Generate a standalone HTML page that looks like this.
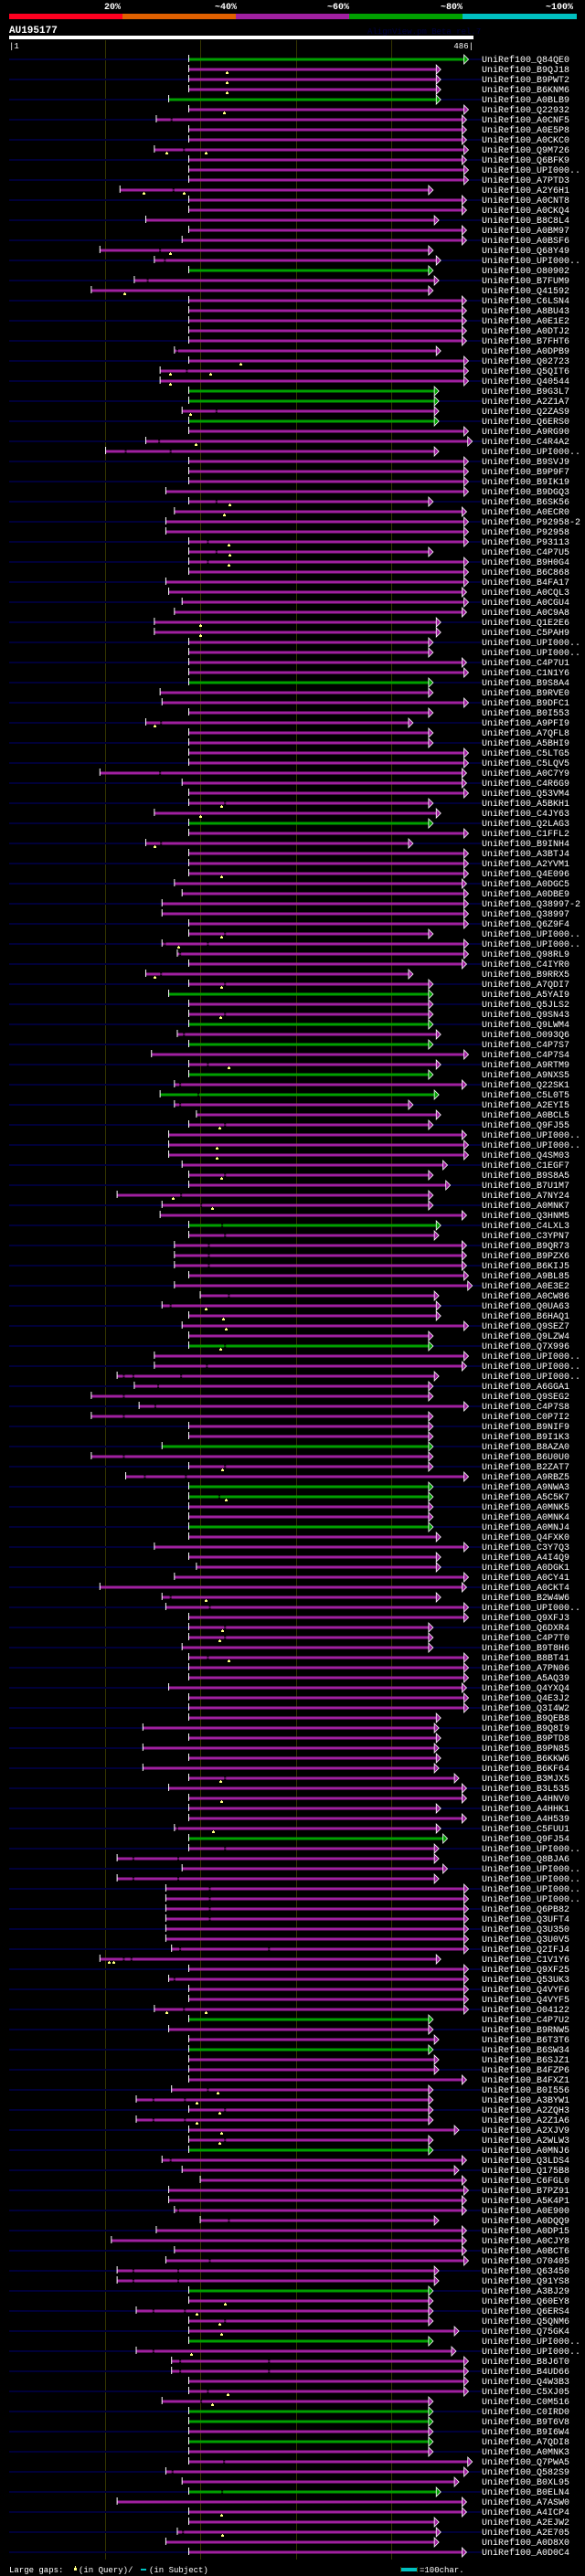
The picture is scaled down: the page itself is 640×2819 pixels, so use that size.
<!DOCTYPE html>
<html><head><meta charset="utf-8"><style>
html,body{margin:0;padding:0;background:#000;}
body{width:640px;height:2819px;overflow:hidden;}
svg{display:block;}
text{font-family:"Liberation Mono",monospace;}
</style></head><body>
<svg id="chart" width="640" height="2819" viewBox="0 0 640 2819" xmlns="http://www.w3.org/2000/svg">
<g>
<text x="123" y="10" fill="#fff" font-size="10" font-weight="bold" text-anchor="middle">20%</text>
<text x="247" y="10" fill="#fff" font-size="10" font-weight="bold" text-anchor="middle">~40%</text>
<text x="370" y="10" fill="#fff" font-size="10" font-weight="bold" text-anchor="middle">~60%</text>
<text x="494" y="10" fill="#fff" font-size="10" font-weight="bold" text-anchor="middle">~80%</text>
<text x="612" y="10" fill="#fff" font-size="10" font-weight="bold" text-anchor="middle">~100%</text>
<rect x="10" y="15" width="124" height="6" fill="#ff0020"/>
<rect x="134" y="15" width="124" height="6" fill="#e06000"/>
<rect x="258" y="15" width="124" height="6" fill="#a020a0"/>
<rect x="382" y="15" width="124" height="6" fill="#00a000"/>
<rect x="506" y="15" width="125" height="6" fill="#00c0c0"/>
</g>
<text x="10" y="36" fill="#fff" font-size="11" font-weight="bold">AU195177</text>
<text x="402" y="37" fill="#000040" font-size="9">AlignView.pm Beta rel.7</text>
<rect x="10" y="39" width="508" height="4" fill="#fff"/>
<text x="10" y="53" fill="#fff" font-size="9">|1</text>
<text x="518" y="53" fill="#fff" font-size="9" text-anchor="end">486|</text>
<g id="grid"></g>
<g id="rows"></g>
<g>
<text x="10" y="2815" fill="#fff" font-size="9">Large gaps:</text>
<rect x="81" y="2810" width="3" height="3" fill="#ffff80"/>
<rect x="82" y="2808" width="1" height="2" fill="#ffff80"/>
<text x="86" y="2815" fill="#fff" font-size="9">(in Query)/</text>
<rect x="154" y="2811" width="6" height="2" fill="#00c0c0"/>
<text x="163" y="2815" fill="#fff" font-size="9">(in Subject)</text>
<rect x="438" y="2810" width="18" height="4" fill="#00c0c0"/>
<rect x="438" y="2809" width="1" height="6" fill="#404000"/>
<rect x="456" y="2809" width="1" height="6" fill="#404000"/>
<text x="459" y="2815" fill="#fff" font-size="9">=100char.</text>
</g>
</svg>
<script>
const ids = ["Q84QE0","B9QJ18","B9PWT2","B6KNM6","A0BLB9","Q22932","A0CNF5","A0E5P8","A0CKC0","Q9M726","Q6BFK9","UPI000..","A7PTD3","A2Y6H1","A0CNT8","A0CKQ4","B8C8L4","A0BM97","A0BSF6","Q68Y49","UPI000..","O80902","B7FUM9","Q41592","C6LSN4","A8BU43","A0E1E2","A0DTJ2","B7FHT6","A0DPB9","Q02723","Q5QIT6",
"Q40544","B9G3L7","A2Z1A7","Q2ZAS9","Q6ERS0","A9RG90","C4R4A2","UPI000..","B9SVJ9","B9P9F7","B9IK19","B9DGQ3","B6SK56","A0ECR0","P92958-2","P92958","P93113","C4P7U5","B9H0G4","B6C868","B4FA17","A0CQL3","A0CGU4","A0C9A8","Q1E2E6","C5PAH9","UPI000..","UPI000..","C4P7U1","C1N1Y6","B9S8A4",
"B9RVE0","B9DFC1","B0I553","A9PFI9","A7QFL8","A5BHI9","C5LTG5","C5LQV5","A0C7Y9","C4R6G9","Q53VM4","A5BKH1","C4JY63","Q2LAG3","C1FFL2","B9INH4","A3BTJ4","A2YVM1","Q4E096","A0DGC5","A0DBE9","Q38997-2","Q38997","Q6Z9F4","UPI000..","UPI000..","Q98RL9","C4IYR0","B9RRX5","A7QDI7","A5YAI9","Q5JLS2",
"Q9SN43","Q9LWM4","O093Q6","C4P7S7","C4P7S4","A9RTM9","A9NXS5","Q22SK1","C5L0T5","A2EYI5","A0BCL5","Q9FJ55","UPI000..","UPI000..","Q4SM03","C1EGF7","B9S8A5","B7U1M7","A7NY24","A0MNK7","Q3HNM5","C4LXL3","C3YPN7","B9QR73","B9PZX6","B6KIJ5","A9BL85","A0E3E2","A0CW86","Q0UA63","B6HAQ1","Q9SEZ7",
"Q9LZW4","Q7X996","UPI000..","UPI000..","UPI000..","A6GGA1","Q9SEG2","C4P7S8","C0P7I2","B9NIF9","B9I1K3","B8AZA0","B6U0U0","B2ZAT7","A9RBZ5","A9NWA3","A5C5K7","A0MNK5","A0MNK4","A0MNJ4","Q4FXK0","C3Y7Q3","A4I4Q9","A0DGK1","A0CY41","A0CKT4","B2W4W6","UPI000..","Q9XFJ3","Q6DXR4","C4P7T0","B9T8H6",
"B8BT41","A7PN06","A5AQ39","Q4YXQ4","Q4E3J2","Q3I4W2","B9QEB8","B9Q8I9","B9PTD8","B9PN85","B6KKW6","B6KF64","B3MJX5","B3L535","A4HNV0","A4HHK1","A4H539","C5FUU1","Q9FJ54","UPI000..","Q8BJA6","UPI000..","UPI000..","UPI000..","UPI000..","Q6PB82","Q3UFT4","Q3U350","Q3U0V5","Q2IFJ4","C1V1Y6",
"Q9XF25","Q53UK3","Q4VYF6","Q4VYF5","O04122","C4P7U2","B9RNW5","B6T3T6","B6SW34","B6SJZ1","B4FZP6","B4FXZ1","B0I556","A3BYW1","A2ZQH3","A2Z1A6","A2XJV9","A2WLW3","A0MNJ6","Q3LDS4","Q175B8","C6FGL0","B7PZ91","A5K4P1","A0E900","A0DQQ9","A0DP15","A0CJY8","A0BCT6","O70405","Q63450","Q91YS8",
"A3BJ29","Q60EY8","Q6ERS4","Q5QNM6","Q75GK4","UPI000..","UPI000..","B8J6T0","B4UD66","Q4W3B3","C5XJ05","C0M516","C0IRD0","B9T6V8","B9I6W4","A7QDI8","A0MNK3","Q7PWA5","Q582S9","B0XL95","B0ELN4","A7ASW0","A4ICP4","A2EJW2","A2E705","A0D8X0","A0D0C4"];
const greenRows = [1,5,22,34,35,37,63,77,94,97,99,102,104,117,129,139,143,144,147,178,196,199,209,223,228,235,236,238,243];
const starts = [188,188,188,188,167,188,154,188,188,152,188,188,188,116,188,188,143,188,181,95,152,188,131,86,188,188,188,188,188,173,188,158,
158,188,188,181,188,188,143,101,188,188,188,164,188,173,164,164,188,188,188,188,164,167,181,173,152,152,188,188,188,188,188,
158,160,188,143,188,188,188,188,95,181,188,188,152,188,188,143,188,188,188,173,181,160,160,188,188,160,176,188,143,188,167,188,
188,188,176,188,149,188,188,173,158,173,196,188,167,167,167,181,188,188,113,160,158,188,188,173,173,173,188,173,200,160,188,181,
188,188,152,152,113,131,86,136,86,188,188,160,86,188,122,188,188,188,188,188,188,152,188,196,173,95,160,164,188,188,188,181,
188,188,188,167,188,188,188,140,188,140,188,140,188,167,188,188,188,173,188,188,113,181,113,164,164,164,164,164,164,170,95,
188,167,188,188,152,188,167,188,188,188,188,188,170,133,188,133,188,188,188,160,181,200,167,167,173,200,154,107,173,164,113,113,
188,188,133,188,188,188,133,170,170,188,188,160,188,188,188,188,188,188,164,181,188,113,188,188,176,164,188];
const ends = [476,447,447,447,447,476,474,474,474,476,474,476,476,439,474,474,445,474,474,439,447,439,445,439,474,474,474,474,474,447,476,476,
476,445,445,445,445,476,480,445,476,476,476,476,439,474,476,476,476,439,476,476,476,474,476,474,447,447,439,439,474,476,439,
439,476,439,418,439,439,476,476,474,474,476,439,447,439,476,418,476,476,476,474,476,476,476,476,439,476,476,474,418,439,439,439,
439,439,447,439,476,447,439,474,445,418,447,439,474,476,476,454,439,457,439,439,474,447,445,474,474,474,476,480,445,447,447,476,
439,439,476,474,445,439,439,476,439,439,439,439,439,439,476,439,439,439,439,439,447,476,447,447,476,474,447,476,476,439,439,439,
476,476,476,474,476,476,447,445,447,445,447,445,466,474,474,447,474,447,454,445,445,454,445,476,476,476,476,476,476,476,447,
476,476,476,476,476,439,439,445,439,445,445,474,439,439,439,439,466,439,439,474,466,474,476,474,474,445,474,474,474,476,445,445,
439,439,439,439,466,439,463,476,476,476,476,439,439,439,439,439,439,480,476,466,447,474,474,445,447,445,474];
const navy = [];
for (let i = 0; i < ids.length; i++) { navy.push(i % 2 === 0 ? 1 : 0); }
const marks = {2:[228],3:[228],4:[228],6:[225],10:[165,206],14:[141,183],20:[168],24:[121],31:[242],32:[168,210],
33:[168],36:[189],39:[195],45:[231],46:[225],49:[230],50:[231],51:[230],57:[200],58:[200],
67:[152],75:[222],76:[200],79:[152],82:[222],88:[222],89:[177],92:[152],93:[222],
96:[221],101:[230],107:[220],109:[217],110:[217],112:[222],114:[171],115:[212],125:[206],126:[224],127:[227],
129:[221],141:[223],144:[227],154:[206],157:[223],158:[220],
160:[230],172:[221],174:[222],177:[213],190:[104,109],
195:[165,206],203:[218],204:[196],205:[220],206:[196],207:[222],208:[220],
224:[226],225:[196],226:[220],227:[222],229:[190],233:[229],234:[212],245:[222],247:[223]};
const gaps = {7:[170],10:[183],14:[172],20:[158],21:[163],23:[145],30:[176],32:[186],
36:[217],39:[157],40:[122,169],45:[217],49:[208],50:[217],51:[208],
67:[159],72:[158],75:[226],79:[159],88:[226],89:[163,208],90:[179],92:[159],93:[226],
96:[226],98:[183],101:[208],103:[179],104:[198],105:[179],107:[226],112:[226],114:[180],115:[201],117:[223],118:[226],119:[209],120:[209],121:[209],124:[230],125:[169],
129:[226],131:[207],132:[120,130,180],133:[156],134:[120],135:[153],136:[120],140:[120],141:[226],142:[142,185],144:[220],154:[169],155:[210],157:[226],158:[226],
160:[208],172:[226],177:[176],179:[226],180:[130,177],182:[130,177],183:[210],184:[210],185:[210],186:[210],189:[179,272],190:[120,128],
192:[173],195:[183],203:[208],204:[151,184],205:[226],206:[151,184],208:[226],210:[169],215:[177],216:[230],220:[210],221:[130,177],222:[130,177],
225:[151,184],226:[226],229:[151],230:[179,272],231:[179,272],233:[208],234:[201],240:[225],241:[171],243:[223],247:[182]};

const NS = "http://www.w3.org/2000/svg";
const QLEN = 486, X0 = 10, XW = 508, Y0 = 65, DY = 11;
function xs(r) { return X0 + r * XW / QLEN; }
function ys(i) { return Y0 + i * DY; }
function mk(tag, attrs, parent) {
  const e = document.createElementNS(NS, tag);
  for (const k in attrs) e.setAttribute(k, attrs[k]);
  parent.appendChild(e);
  return e;
}
const grid = document.getElementById('grid');
const gridTicks = [100, 200, 300, 400];
gridTicks.forEach(function (t) {
  const l = mk('rect', {x: Math.round(xs(t)), y: 44, width: 1, height: 2757, fill: '#353500'}, grid);
  
  
});
const rowsG = document.getElementById('rows');
for (let i = 0; i < ids.length; i++) {
  const y = ys(i);
  const n = i + 1;
  const g = mk('g', {}, rowsG);
  
  
  const sx = xs(starts[i]), ex = xs(ends[i]);
  const col = greenRows.indexOf(n) >= 0 ? '#00a000' : '#a020a0';
  if (navy[i]) {
    const n1 = mk('rect', {x: X0, y: y - 1, width: sx - X0, height: 2, fill: '#000038'}, g);
    
    
    const n2 = mk('rect', {x: ex + 5, y: y - 1, width: 527 - ex - 5, height: 2, fill: '#000038'}, g);
    
    
  }
  const b = mk('rect', {x: sx, y: y - 1.5, width: ex - sx, height: 3, fill: col}, g);
  
  
  (gaps[n] || []).forEach(function (gp) {
    const r = mk('rect', {x: xs(gp) - 1, y: y - 1.5, width: 2, height: 3, fill: '#000'}, g);
    
    
    const r2 = mk('rect', {x: xs(gp) - 1, y: y - 0.5, width: 2, height: 1, fill: col}, g);
    
    
  });
  const t = mk('rect', {x: sx - 0.5, y: y - 5, width: 1, height: 8, fill: '#fff'}, g);
  
  
  const tri = mk('polygon', {points: (ex) + ',' + (y - 5) + ' ' + (ex + 5) + ',' + y + ' ' + ex + ',' + (y + 5), fill: col, stroke: '#fff', 'stroke-width': 0.8}, g);
  
  
  (marks[n] || []).forEach(function (m) {
    const mx = Math.round(xs(m));
    const a = mk('rect', {x: mx - 1, y: y + 3, width: 3, height: 2, fill: '#ffff80'}, g);
    
    
    const s = mk('rect', {x: mx, y: y + 2, width: 1, height: 1, fill: '#ffff80'}, g);
    
    
  });
  const tx = mk('text', {x: 527, y: y + 3, fill: '#fff', 'font-size': 10}, g);
  tx.textContent = 'UniRef100_' + ids[i];
  
  
}
</script>
</body></html>
